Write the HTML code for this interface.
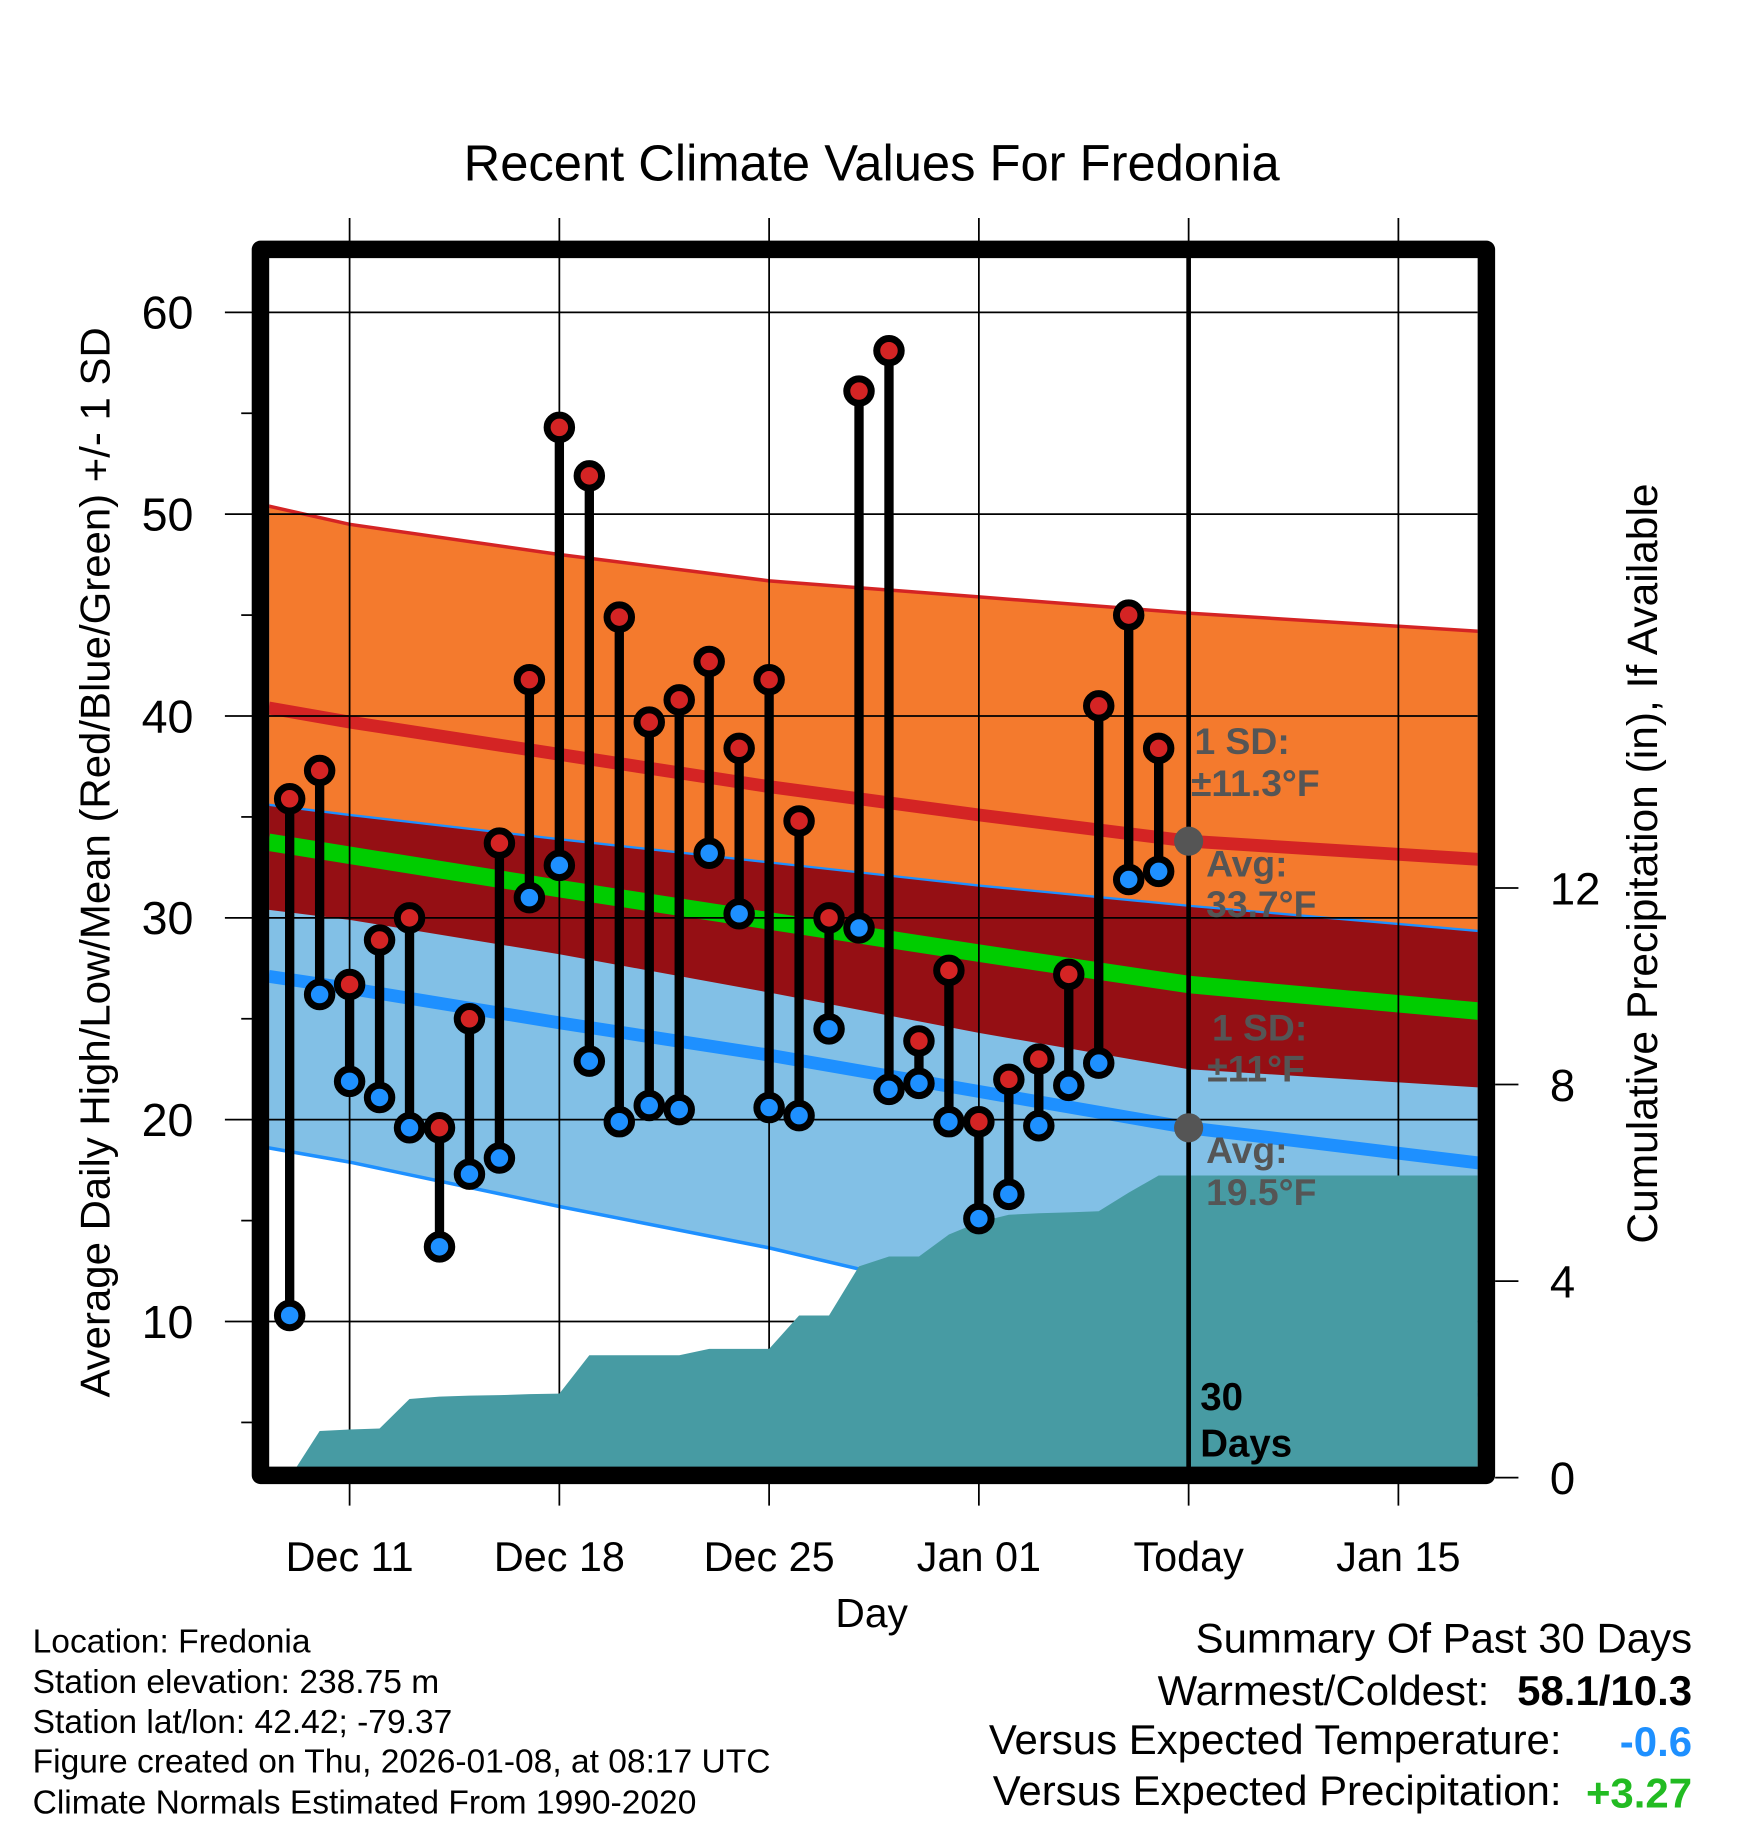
<!DOCTYPE html>
<html><head><meta charset="utf-8"><style>
html,body{margin:0;padding:0;background:#fff;}
svg{display:block;}
text{font-family:"Liberation Sans",Arial,sans-serif;}
</style></head>
<body>
<svg id="chart" xmlns="http://www.w3.org/2000/svg" width="1748" height="1828" viewBox="0 0 1500 1568.6">
<defs><clipPath id="pc"><rect x="231" y="221" width="1037" height="1038"/></clipPath></defs>
<g id="bands" clip-path="url(#pc)"></g>
<g id="marks"></g>
<g id="labels"></g>
</svg>
<script>
// ---- data ----
const dayLabels = ["Dec 11","Dec 18","Dec 25","Jan 01","Today","Jan 15"];
const dayTicks = [0,7,14,21,28,35];
const yTicks = [10,20,30,40,50,60];
const precipTicks = [0,4,8,12];
const obsDays = [-2,-1,0,1,2,3,4,5,6,7,8,9,10,11,12,13,14,15,16,17,18,19,20,21,22,23,24,25,26,27];
const highs = [35.9,37.3,26.7,28.9,30.0,19.6,25.0,33.7,41.8,54.3,51.9,44.9,39.7,40.8,42.7,38.4,41.8,34.8,30.0,56.1,58.1,23.9,27.4,19.9,22.0,23.0,27.2,40.5,45.0,38.4];
const lows = [10.3,26.2,21.9,21.1,19.6,13.7,17.3,18.1,31.0,32.6,22.9,19.9,20.7,20.5,33.2,30.2,20.6,20.2,24.5,29.5,21.5,21.8,19.9,15.1,16.3,19.7,21.7,22.8,31.9,32.3];
const precip = [0,0.95,0.98,1.0,1.6,1.65,1.67,1.68,1.7,1.71,2.49,2.49,2.49,2.49,2.62,2.62,2.62,3.3,3.3,4.3,4.5,4.5,4.95,5.2,5.35,5.38,5.4,5.42,5.8,6.15];
const normDays = [-2.7,0,7,14,21,28,37.7];
const meanHigh = [40.4,39.7,38.1,36.5,35.1,33.8,32.9];
const sdHigh = [10.0,9.8,9.9,10.2,10.8,11.3,11.3];
const meanLow = [27.1,26.5,24.8,23.2,21.4,19.6,17.85];
const sdLow = [8.5,8.6,9.1,9.55,10.2,11.0,11.5];

// ---- axes ----
const X = d => 300 + d*25.714;
const Y = v => 268 + (60 - v)*17.32;
const P = p => 1268 - p*42.17;
const NS = "http://www.w3.org/2000/svg";
function mk(parent, tag, attrs, txt){const e=document.createElementNS(NS,tag);for(const k in attrs)e.setAttribute(k,attrs[k]);if(txt!==undefined)e.textContent=txt;parent.appendChild(e);return e;}
const bands=document.getElementById('bands'), marks=document.getElementById('marks'), labels=document.getElementById('labels');
const svg=document.getElementById('chart');

function ptsOf(arrFn){return normDays.map((d,i)=>X(d).toFixed(1)+','+Y(arrFn(i)).toFixed(1));}
function areaPath(topFn,botFn){const t=ptsOf(topFn),b=ptsOf(botFn).reverse();return 'M'+t.join('L')+'L'+b.join('L')+'Z';}
let e=mk(bands,'path',{d:areaPath(i=>meanHigh[i]+sdHigh[i],i=>meanHigh[i]-sdHigh[i]),fill:'#f47a2d'});

e=mk(bands,'path',{d:areaPath(i=>meanLow[i]+sdLow[i],i=>meanLow[i]-sdLow[i]),fill:'#82c0e6'});

e=mk(bands,'path',{d:areaPath(i=>meanLow[i]+sdLow[i],i=>meanHigh[i]-sdHigh[i]),fill:'#950f14'});

e=mk(bands,'polyline',{points:ptsOf(i=>meanHigh[i]+sdHigh[i]).join(' '),fill:'none',stroke:'#d42424','stroke-width':3});

e=mk(bands,'polyline',{points:ptsOf(i=>meanLow[i]+sdLow[i]).join(' '),fill:'none',stroke:'#1e90ff','stroke-width':2});

e=mk(bands,'polyline',{points:ptsOf(i=>meanLow[i]-sdLow[i]).join(' '),fill:'none',stroke:'#1e90ff','stroke-width':3});

e=mk(bands,'polyline',{points:ptsOf(i=>meanHigh[i]).join(' '),fill:'none',stroke:'#d42424','stroke-width':11});

e=mk(bands,'polyline',{points:ptsOf(i=>meanLow[i]).join(' '),fill:'none',stroke:'#1e90ff','stroke-width':11});

e=mk(bands,'polyline',{points:ptsOf(i=>(meanHigh[i]+meanLow[i])/2).join(' '),fill:'none',stroke:'#00cc00','stroke-width':15});


yTicks.forEach(v=>{const g=mk(svg,'line',{x1:193,x2:1268,y1:Y(v),y2:Y(v),stroke:'#000','stroke-width':1.5});
bands.parentNode.insertBefore(g,marks);});
dayTicks.forEach(d=>{const g=mk(svg,'line',{x1:X(d),x2:X(d),y1:187,y2:1292,stroke:'#000','stroke-width':1.5});
bands.parentNode.insertBefore(g,marks);});
for(let v=5;v<=60;v+=10){const g=mk(svg,'line',{x1:207,x2:218,y1:Y(v),y2:Y(v),stroke:'#000','stroke-width':1.5});
bands.parentNode.insertBefore(g,marks);}

let pp=[X(obsDays[0])+','+P(0)];
obsDays.forEach((d,i)=>pp.push(X(d).toFixed(1)+','+P(precip[i]).toFixed(1)));
pp.push('1268,'+P(precip[precip.length-1]).toFixed(1));pp.push('1268,1270');pp.push(X(obsDays[0])+',1270');
e=mk(marks,'polygon',{points:pp.join(' '),fill:'#479ba3','clip-path':'url(#pc)'});


e=mk(marks,'line',{x1:X(28),x2:X(28),y1:221,y2:1259,stroke:'#000','stroke-width':4});

e=mk(marks,'circle',{cx:X(28),cy:Y(meanHigh[5]),r:12.5,fill:'#555'});

e=mk(marks,'circle',{cx:X(28),cy:Y(meanLow[5]),r:12.5,fill:'#555'});


obsDays.forEach((d,i)=>{
  const s=mk(marks,'line',{x1:X(d),x2:X(d),y1:Y(highs[i]),y2:Y(lows[i]),stroke:'#000','stroke-width':8});
  
});
obsDays.forEach((d,i)=>{
  const h=mk(marks,'circle',{cx:X(d),cy:Y(highs[i]),r:10.5,fill:'#d42424',stroke:'#000','stroke-width':6});
  
  const l=mk(marks,'circle',{cx:X(d),cy:Y(lows[i]),r:10.5,fill:'#1e90ff',stroke:'#000','stroke-width':6});
  
});

e=mk(marks,'rect',{x:223.5,y:214,width:1052,height:1052,fill:'none',stroke:'#000','stroke-width':15,'stroke-linejoin':'round'});


yTicks.forEach(v=>{const t=mk(labels,'text',{x:166,y:Y(v)+14,'font-size':40,'text-anchor':'end'},String(v));
});
precipTicks.forEach(p=>{const k=mk(labels,'line',{x1:1283,x2:1303,y1:P(p),y2:P(p),stroke:'#000','stroke-width':1.5});

const t=mk(labels,'text',{x:1330,y:P(p)+14,'font-size':39,'text-anchor':'start'},String(p));
});
dayTicks.forEach((d,i)=>{const t=mk(labels,'text',{x:X(d),y:1348,'font-size':35.5,'text-anchor':'middle'},dayLabels[i]);
});
</script>
<script>
(function(){
const NS="http://www.w3.org/2000/svg";const L=document.getElementById('labels');
function T(x,y,s,txt,o,name){const t=document.createElementNS(NS,'text');t.setAttribute('x',x);t.setAttribute('y',y);t.setAttribute('font-size',s);
for(const k in (o||{}))t.setAttribute(k,o[k]);t.textContent=txt;


L.appendChild(t);return t;}
T(748,155,43.5,"Recent Climate Values For Fredonia",{'text-anchor':'middle'},'chart-title');
T(748,1396,35,"Day",{'text-anchor':'middle'},'x-axis-title');
T(0,0,36,"Average Daily High/Low/Mean (Red/Blue/Green) +/- 1 SD",{'text-anchor':'middle',transform:'translate(94,740) rotate(-90)'},'y-axis-title');
T(0,0,36.5,"Cumulative Precipitation (in), If Available",{'text-anchor':'middle',transform:'translate(1422,741) rotate(-90)'},'precip-axis-title');
const g={'font-weight':'bold',fill:'#555'};
T(1025,647,32,"1 SD:",g,'high-sd-label');T(1022,683,32,"±11.3°F",g,'high-sd-value');
T(1035,752,32,"Avg:",g,'avg-high-label');T(1035,787,32,"33.7°F",g,'avg-high-value');
T(1040,893,32,"1 SD:",g,'low-sd-label');T(1036,928,32,"±11°F",g,'low-sd-value');
T(1035,998,32,"Avg:",g,'avg-low-label');T(1035,1034,32,"19.5°F",g,'avg-low-value');
T(1030,1210,33,"30",{'font-weight':'bold'},'days-count-label');T(1030,1250,33,"Days",{'font-weight':'bold'},'days-label');
const lf=[["Location: Fredonia",1418],["Station elevation: 238.75 m",1453],["Station lat/lon: 42.42; -79.37",1487],["Figure created on Thu, 2026-01-08, at 08:17 UTC",1521],["Climate Normals Estimated From 1990-2020",1556]];
lf.forEach((r,i)=>T(28,r[1],28.8,r[0],{},'station-info-line'));
T(1452,1418,36,"Summary Of Past 30 Days",{'text-anchor':'end'},'summary-title');
T(1278,1463,36,"Warmest/Coldest:",{'text-anchor':'end'},'warmest-coldest-label');
T(1452,1463,36,"58.1/10.3",{'text-anchor':'end','font-weight':'bold'},'warmest-coldest-value');
T(1340,1505,36,"Versus Expected Temperature:",{'text-anchor':'end'},'temp-departure-label');
T(1452,1507,36,"-0.6",{'text-anchor':'end','font-weight':'bold',fill:'#1e90ff'},'temp-departure-value');
T(1340,1549,36,"Versus Expected Precipitation:",{'text-anchor':'end'},'precip-departure-label');
T(1452,1551,36,"+3.27",{'text-anchor':'end','font-weight':'bold',fill:'#22bb22'},'precip-departure-value');
})();
</script>
</body></html>
